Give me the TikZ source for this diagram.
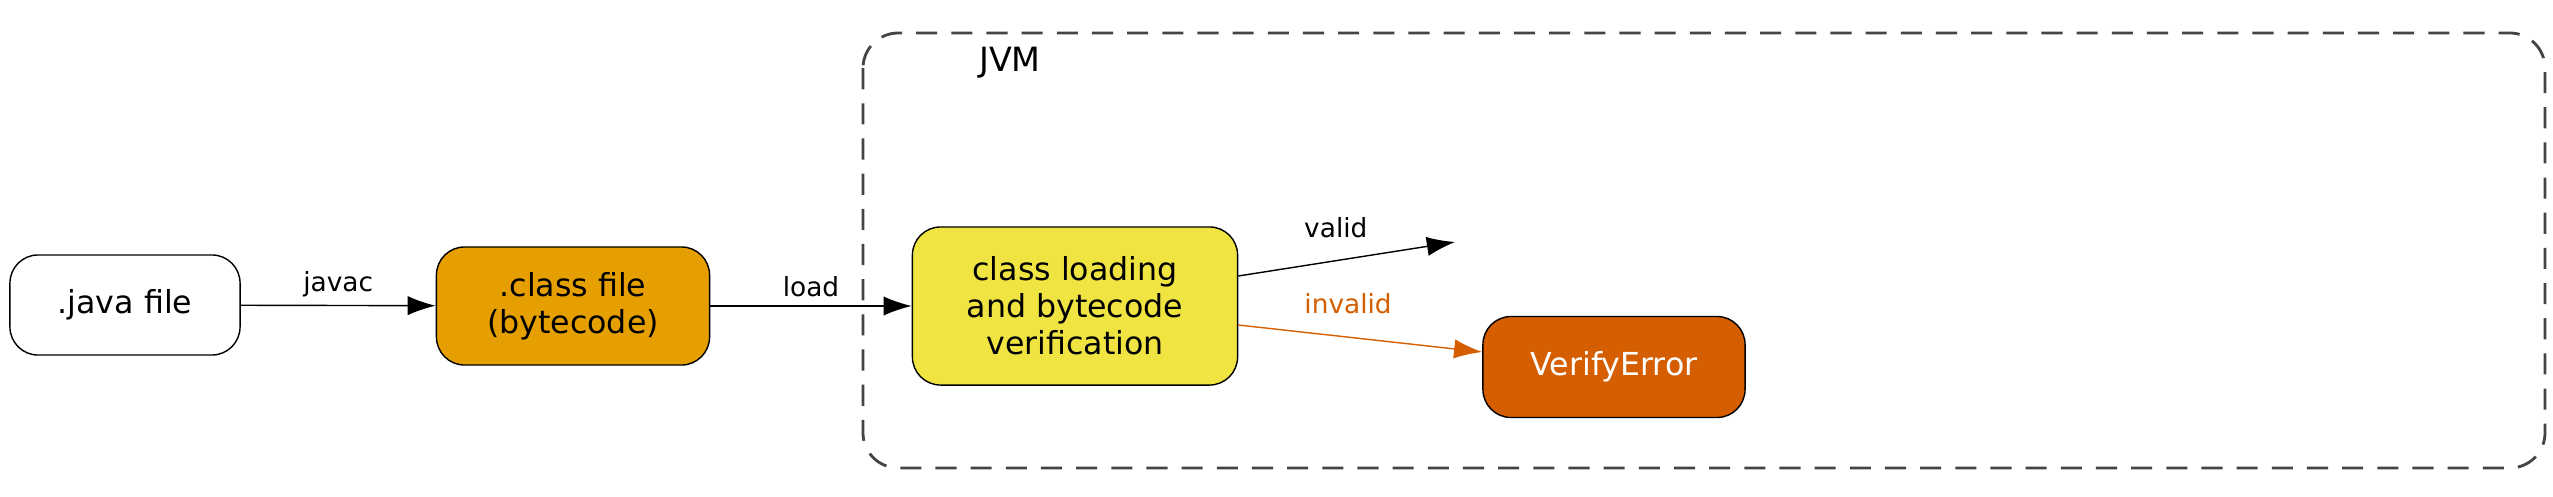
\documentclass[tikz,border=0pt]{standalone}
\usepackage{fontspec}
\setmainfont{DejaVu Sans}
\usetikzlibrary{arrows.meta,positioning}
\definecolor{jvmgray}{HTML}{444444}
\definecolor{classorange}{HTML}{E69F00}
\definecolor{verifyyellow}{HTML}{F0E442}
\definecolor{errorred}{HTML}{D55E00}

\begin{document}
\begin{tikzpicture}
[x=0.01cm,y=-0.01cm,
box/.style={draw,rounded corners=8pt,align=center,font=\fontsize{9}{10.5}\selectfont,inner sep=0pt},
flow/.style={->,>={Latex[length=8pt,width=5.5pt]}},
lbl/.style={font=\fontsize{7.5}{9}\selectfont}]
\useasboundingbox (0,0) rectangle (2553,497);
\draw[jvmgray,thick,rounded corners=10pt,dash pattern=on 6pt off 4pt] (863,33) rectangle (2545,468);
\node (jvm) at (1010,63) {\fontsize{9.5}{11}\selectfont JVM};

\node (java) at (125,305) [box,minimum width=2.3cm,minimum height=1cm] {.java file};
\node (class) at (573,306) [box,fill=classorange,minimum width=2.73cm,minimum height=1.18cm] {.class file\\(bytecode)};
\node (verify) at (1075,306) [box,fill=verifyyellow,minimum width=3.25cm,minimum height=1.58cm] {class loading\\and bytecode\\verification};
\node (error) at (1614,367) [box,fill=errorred,text=white,minimum width=2.62cm,minimum height=1.01cm] {VerifyError};
\coordinate (validend) at (1455,242);

\draw[flow] (java) -- (class) node [lbl,midway,above=-1pt] {javac};
\draw[flow] (class) -- (verify) node [lbl,midway,above=-1pt] {load};
\draw[flow] (verify.east|-0,276) -- (validend) node [lbl,pos=0.45,above=3pt] {valid};
\draw[flow,errorred] (verify.east|-0,325) -- (error.west|-0,352) node [lbl,pos=0.45,above=3pt] {invalid};
\end{tikzpicture}
\end{document}
